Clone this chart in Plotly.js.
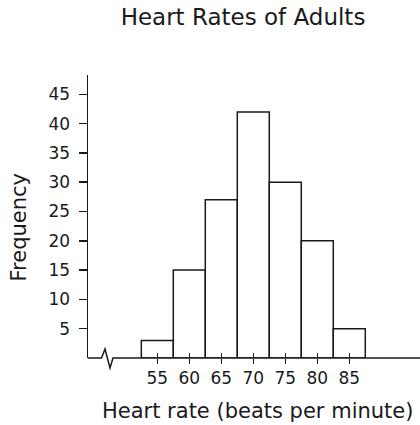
<!DOCTYPE html>
<html>
<head>
<meta charset="utf-8">
<script src="https://cdn.plot.ly/plotly-3.0.1.min.js"></script>
<style>html,body{margin:0;padding:0;background:#fff;}#chart{width:420px;height:425px;}</style>
</head>
<body>
<div id="chart"></div>
<script>
const heartRates = [55, 60, 65, 70, 75, 80, 85];
const frequencies = [3, 15, 27, 42, 30, 20, 5];
const yTickVals = [5, 10, 15, 20, 25, 30, 35, 40, 45];
const xTickLabels = ['55', '60', '65', '70', '75', '80', '85'];

const ink = '#1a1a1a';
const font = 'DejaVu Sans, sans-serif';
const L = 88, R = 0, T = 75, B = 67;
const W = 420, H = 425;
const pw = W - L - R, ph = H - T - B;
const px = v => (v - L) / pw;
const py = v => (H - B - v) / ph;
const base = H - B;

const traces = [
  {
    type: 'bar', x: heartRates, y: frequencies, width: 5,
    marker: {color: '#ffffff', line: {color: ink, width: 1.5}},
    hoverinfo: 'skip', xaxis: 'x', yaxis: 'y'
  },
  {
    type: 'scatter', mode: 'none', x: heartRates, y: heartRates.map(() => 0),
    xaxis: 'x2', yaxis: 'y', hoverinfo: 'skip', showlegend: false
  }
];

const xRange = [44.17, 96.05];
const layout = {
  width: W, height: H,
  margin: {l: L, r: R, t: T, b: B, pad: 0},
  paper_bgcolor: '#fff', plot_bgcolor: '#fff',
  showlegend: false,
  bargap: 0,
  font: {family: font, color: ink},
  title: {
    text: 'Heart Rates of Adults',
    font: {family: font, size: 23, color: ink},
    x: px(243), xref: 'paper', xanchor: 'center',
    y: 1 - 17 / H, yref: 'container', yanchor: 'middle'
  },
  xaxis: {
    range: xRange, fixedrange: true,
    tickmode: 'array', tickvals: heartRates, ticktext: xTickLabels,
    ticks: 'outside', ticklen: 5, tickwidth: 1.5, tickcolor: ink,
    tickfont: {family: font, size: 17, color: ink},
    showline: false, showgrid: false, zeroline: false
  },
  xaxis2: {
    range: xRange, fixedrange: true, overlaying: 'x', anchor: 'y', side: 'bottom',
    tickmode: 'array', tickvals: heartRates,
    ticks: 'inside', ticklen: 5, tickwidth: 1.5, tickcolor: ink,
    showticklabels: false, showline: false, showgrid: false, zeroline: false
  },
  yaxis: {
    range: [0, 48.3], fixedrange: true,
    tickmode: 'array', tickvals: yTickVals,
    ticks: 'outside', ticklen: 8, tickwidth: 1.5, tickcolor: ink,
    tickfont: {family: font, size: 17, color: ink},
    ticklabelstandoff: 5,
    showline: true, linecolor: ink, linewidth: 1.5,
    showgrid: false, zeroline: false
  },
  annotations: [
    {
      text: 'Heart rate (beats per minute)', showarrow: false,
      xref: 'paper', yref: 'paper', x: px(257.5), y: py(410.5),
      xanchor: 'center', yanchor: 'middle',
      font: {family: font, size: 21, color: ink}
    },
    {
      text: 'Frequency', showarrow: false, textangle: -90,
      xref: 'paper', yref: 'paper', x: px(18), y: py(227.5),
      xanchor: 'center', yanchor: 'middle',
      font: {family: font, size: 21, color: ink}
    }
  ],
  shapes: [
    {
      type: 'path', xref: 'paper', yref: 'paper',
      path: 'M ' + px(L) + ' ' + py(base) +
            ' L ' + px(101.5) + ' ' + py(base) +
            ' L ' + px(105) + ' ' + py(base - 9) +
            ' L ' + px(110) + ' ' + py(base + 10) +
            ' L ' + px(113) + ' ' + py(base) +
            ' L 1 ' + py(base),
      line: {color: ink, width: 1.5}
    }
  ]
};

Plotly.newPlot('chart', traces, layout, {staticPlot: true, displayModeBar: false});
</script>
</body>
</html>
